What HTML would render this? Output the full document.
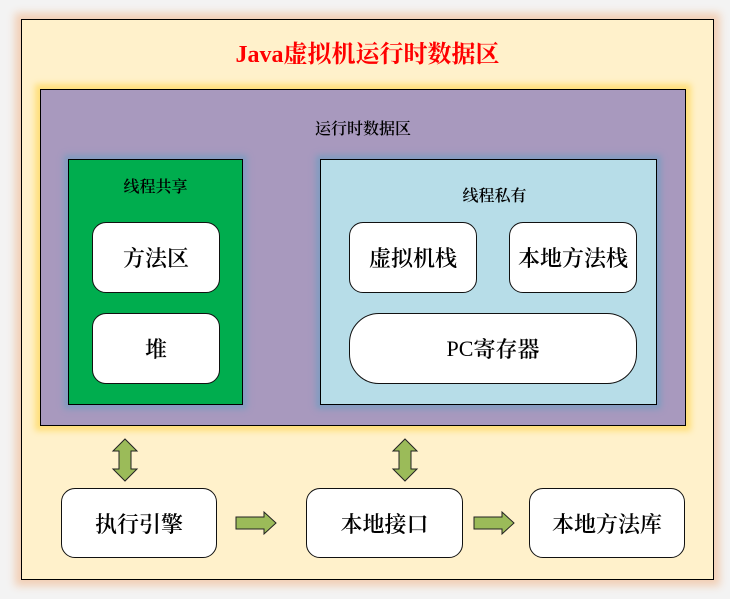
<!DOCTYPE html>
<html><head><meta charset="utf-8"><style>
body{margin:0;width:730px;height:599px;background:#f3f3f3;position:relative;overflow:hidden;font-family:"Liberation Serif","Noto Serif CJK SC",serif}
div{position:absolute;box-sizing:border-box}
.b{background:#fff;border:1px solid #111;border-radius:14px;display:flex;align-items:center;justify-content:center;font-size:22px;color:#000;font-family:"Liberation Serif","Noto Serif CJK SC",serif;font-weight:600}
.t{text-align:center;font-family:"Liberation Serif","Noto Serif CJK SC",serif;color:#000;font-weight:600}
svg{position:absolute}
</style></head><body>
<div style="left:21px;top:19px;width:693px;height:561px;background:#fff1cb;border:1px solid #000;box-shadow:0 0 8px 6px #f2cfb5"></div>
<div class="t" style="left:21px;top:34px;width:693px;font-size:24px;font-weight:bold;color:#f00">Java虚拟机运行时数据区</div>
<div style="left:40px;top:89px;width:646px;height:337px;background:#a899be;border:1px solid #000;box-shadow:0 0 6px 5px #ffdf7a"></div>
<div class="t" style="left:40px;top:116px;width:646px;font-size:16px">运行时数据区</div>
<div style="left:68px;top:159px;width:175px;height:246px;background:#00ad4e;border:1px solid #000;box-shadow:0 0 6px 4px #7f9cc0"></div>
<div class="t" style="left:68px;top:174px;width:175px;font-size:16px">线程共享</div>
<div style="left:320px;top:159px;width:337px;height:246px;background:#b7dde8;border:1px solid #000;box-shadow:0 0 6px 4px #7f9cc0"></div>
<div class="t" style="left:326px;top:183px;width:337px;font-size:16px">线程私有</div>
<div class="b" style="left:92px;top:222px;width:128px;height:71px">方法区</div>
<div class="b" style="left:92px;top:313px;width:128px;height:71px">堆</div>
<div class="b" style="left:349px;top:222px;width:128px;height:71px">虚拟机栈</div>
<div class="b" style="left:509px;top:222px;width:128px;height:71px">本地方法栈</div>
<div class="b" style="left:349px;top:313px;width:288px;height:71px;border-radius:30px"><span style="font-weight:normal">PC</span>寄存器</div>
<div class="b" style="left:61px;top:488px;width:156px;height:70px">执行引擎</div>
<div class="b" style="left:306px;top:488px;width:157px;height:70px">本地接口</div>
<div class="b" style="left:529px;top:488px;width:156px;height:70px">本地方法库</div>
<svg width="730" height="599" style="left:0;top:0">
<g fill="#9bbb59" stroke="#222" stroke-width="1">
<polygon points="125,439 137,451 131,451 131,469 137,469 125,481 113,469 119,469 119,451 113,451"/>
<polygon points="405,439 417,451 411,451 411,469 417,469 405,481 393,469 399,469 399,451 393,451"/>
<polygon points="236,517 264,517 264,512 276,523 264,534 264,529 236,529"/>
<polygon points="474,517 502,517 502,512 514,523 502,534 502,529 474,529"/>
</g></svg>
</body></html>
